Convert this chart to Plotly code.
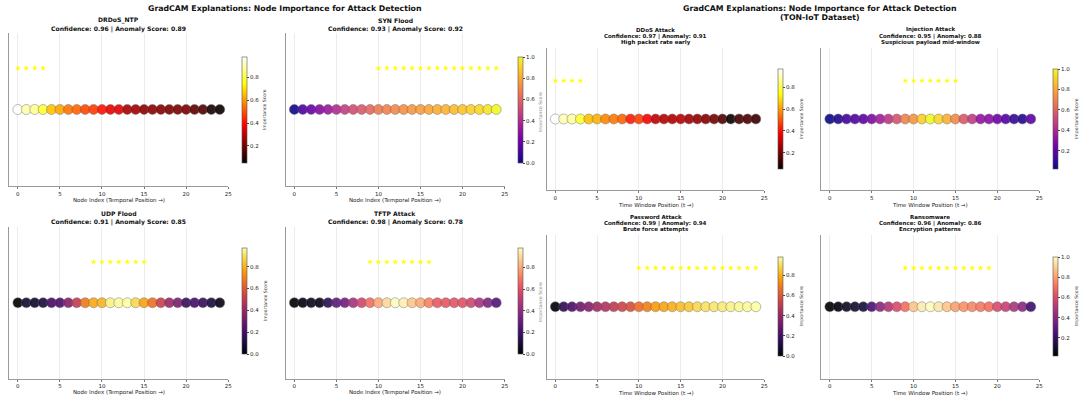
import plotly.graph_objects as go

# ---------------- data ----------------
node_index = list(range(25))

drdos_ntp = [0.98, 0.90, 0.88, 0.79, 0.66, 0.62, 0.55, 0.53, 0.49, 0.47, 0.41, 0.36, 0.35,
             0.27, 0.26, 0.23, 0.23, 0.22, 0.21, 0.21, 0.21, 0.17, 0.15, 0.07, 0.05]
syn_flood = [0.00, 0.12, 0.20, 0.27, 0.33, 0.40, 0.47, 0.52, 0.56, 0.61, 0.67, 0.69, 0.71,
             0.73, 0.75, 0.77, 0.79, 0.81, 0.83, 0.85, 0.87, 0.90, 0.92, 0.95, 1.00]
udp_flood = [0.00, 0.08, 0.06, 0.10, 0.20, 0.22, 0.35, 0.50, 0.68, 0.78, 0.80, 0.94, 0.96,
             0.97, 0.88, 0.77, 0.66, 0.52, 0.40, 0.33, 0.18, 0.20, 0.17, 0.10, 0.03]
tftp_attack = [0.00, 0.02, 0.04, 0.03, 0.15, 0.28, 0.32, 0.45, 0.56, 0.68, 0.80, 0.90, 0.98,
               0.95, 0.86, 0.80, 0.72, 0.63, 0.62, 0.61, 0.60, 0.56, 0.46, 0.36, 0.25]
ddos_attack = [0.97, 0.90, 0.88, 0.78, 0.65, 0.63, 0.57, 0.55, 0.52, 0.42, 0.47, 0.38, 0.30,
               0.29, 0.28, 0.29, 0.26, 0.24, 0.22, 0.20, 0.15, 0.05, 0.13, 0.14, 0.12]
injection_attack = [0.02, 0.05, 0.12, 0.15, 0.18, 0.27, 0.36, 0.45, 0.55, 0.70, 0.75, 0.90, 1.00,
                    0.92, 0.82, 0.72, 0.57, 0.47, 0.32, 0.30, 0.24, 0.16, 0.10, 0.06, 0.18]
password_attack = [0.00, 0.15, 0.22, 0.30, 0.35, 0.42, 0.46, 0.50, 0.54, 0.57, 0.66, 0.70, 0.76,
                   0.78, 0.80, 0.83, 0.85, 0.89, 0.91, 0.92, 0.93, 0.95, 0.96, 0.97, 0.98]
ransomware = [0.02, 0.03, 0.08, 0.10, 0.12, 0.25, 0.40, 0.50, 0.60, 0.70, 0.88, 0.96, 1.00,
              0.95, 0.88, 0.80, 0.77, 0.75, 0.72, 0.70, 0.60, 0.55, 0.48, 0.40, 0.22]

stars_drdos_ntp = [0, 1, 2, 3]
stars_syn_flood = list(range(10, 25))
stars_udp_flood = list(range(9, 16))
stars_tftp_attack = list(range(9, 17))
stars_ddos_attack = [0, 1, 2, 3]
stars_injection_attack = list(range(9, 16))
stars_password_attack = list(range(10, 25))
stars_ransomware = list(range(9, 20))
star_level = 0.27

titles_left = [
    ["DRDoS_NTP", "Confidence: 0.96 | Anomaly Score: 0.89"],
    ["SYN Flood", "Confidence: 0.93 | Anomaly Score: 0.92"],
    ["UDP Flood", "Confidence: 0.91 | Anomaly Score: 0.85"],
    ["TFTP Attack", "Confidence: 0.98 | Anomaly Score: 0.78"],
]
titles_right = [
    ["DDoS Attack", "Confidence: 0.97 | Anomaly: 0.91", "High packet rate early"],
    ["Injection Attack", "Confidence: 0.95 | Anomaly: 0.88", "Suspicious payload mid-window"],
    ["Password Attack", "Confidence: 0.99 | Anomaly: 0.94", "Brute force attempts"],
    ["Ransomware", "Confidence: 0.96 | Anomaly: 0.86", "Encryption patterns"],
]
xlabel_left = "Node Index (Temporal Position \u2192)"
xlabel_right = "Time Window Position (t \u2192)"
suptitle = "GradCAM Explanations: Node Importance for Attack Detection"
suptitle_right2 = "(TON-IoT Dataset)"

# ---------------- colour scales ----------------
hot = [[0.0, "rgb(10,0,0)"], [0.365079, "rgb(255,0,0)"],
       [0.746032, "rgb(255,255,0)"], [1.0, "rgb(255,255,255)"]]

# ---------------- layout helpers ----------------
W, H = 1083, 398
FONT = "DejaVu Sans"


def fx(px):
    return px / W


def fy(py):
    return 1 - py / H


panels = [
    # values, stars, colorscale, axis x px, axis y px, colorbar x, colorbar y px, cbar label
    (drdos_ntp, stars_drdos_ntp, hot, (9.5, 229), (33, 186), 243, (57, 163), True),
    (syn_flood, stars_syn_flood, "Plasma", (287, 506.5), (33, 186), 520, (57, 163), False),
    (udp_flood, stars_udp_flood, "Inferno", (9.5, 229), (227, 378.5), 243, (248, 354), True),
    (tftp_attack, stars_tftp_attack, "Magma", (287, 506.5), (227, 378.5), 520, (248, 354), False),
    (ddos_attack, stars_ddos_attack, hot, (549, 767), (48, 190), 781, (69, 169), True),
    (injection_attack, stars_injection_attack, "Plasma", (824.5, 1043), (48, 190), 1057, (69, 169), True),
    (password_attack, stars_password_attack, "Inferno", (549, 767), (235, 378.5), 781, (257, 356), True),
    (ransomware, stars_ransomware, "Magma", (824.5, 1043), (235, 378.5), 1057, (257, 356), True),
]

fig = go.Figure()
layout = dict(
    width=W, height=H, margin=dict(l=0, r=0, t=0, b=0),
    paper_bgcolor="white", plot_bgcolor="white", showlegend=False,
    font=dict(family=FONT, color="#222"),
)
annotations = []

for i, (vals, stars, cs, axx, axy, cbx, cby, cblab) in enumerate(panels):
    n = i + 1
    xa = "x" if n == 1 else f"x{n}"
    ya = "y" if n == 1 else f"y{n}"
    cb_len = (cby[1] - cby[0]) / H
    cb_y = fy((cby[0] + cby[1]) / 2)
    fig.add_trace(go.Scatter(
        x=node_index, y=[0] * len(vals), mode="markers", xaxis=xa, yaxis=ya,
        marker=dict(
            size=10, color=vals, colorscale=cs, opacity=0.9,
            line=dict(color="#6a6a6a", width=0.5), showscale=True,
            colorbar=dict(
                x=fx(cbx), xanchor="left", xpad=0, ypad=0,
                y=cb_y, yanchor="middle", len=cb_len, lenmode="fraction",
                thickness=5, thicknessmode="pixels",
                outlinecolor="#555", outlinewidth=0.6,
                tick0=0, dtick=0.2, tickformat=".1f", ticks="outside",
                ticklen=2, tickwidth=0.6, tickcolor="#444",
                tickfont=dict(size=5.5, family=FONT, color="#222"),
            ),
        ),
        hoverinfo="skip",
    ))
    fig.add_trace(go.Scatter(
        x=stars, y=[star_level] * len(stars), mode="markers", xaxis=xa, yaxis=ya,
        marker=dict(symbol="star", size=4.5, color="#ffff00", line=dict(width=0)),
        hoverinfo="skip",
    ))
    xkey = "xaxis" if n == 1 else f"xaxis{n}"
    ykey = "yaxis" if n == 1 else f"yaxis{n}"
    layout[xkey] = dict(
        domain=[fx(axx[0]), fx(axx[1])], anchor=ya, range=[-1, 25],
        tick0=0, dtick=5, showgrid=True, gridcolor="#ececec", gridwidth=0.6,
        zeroline=False, showline=True, linecolor="#9a9a9a", linewidth=1,
        ticks="outside", ticklen=2, tickwidth=0.6, tickcolor="#777",
        tickfont=dict(size=5.5, family=FONT, color="#222"),
    )
    layout[ykey] = dict(
        domain=[fy(axy[1]), fy(axy[0])], anchor=xa, range=[-0.5, 0.5],
        showgrid=False, zeroline=False, showticklabels=False, ticks="",
        showline=True, linecolor="#9a9a9a", linewidth=1.2,
    )
    if cblab:
        annotations.append(dict(
            x=fx(cbx + 23), y=cb_y, xref="paper", yref="paper", text="Importance Score",
            showarrow=False, textangle=-90, xanchor="center", yanchor="middle",
            font=dict(size=4.6, family=FONT, color="#333"),
        ))

# subplot titles
left_title_y = [(20.5, 28.8), (20.5, 28.8), (213.5, 221.5), (213.5, 221.5)]
for k, lines in enumerate(titles_left):
    axx = panels[k][3]
    cx = (axx[0] + axx[1]) / 2
    for j, t in enumerate(lines):
        annotations.append(dict(
            x=fx(cx), y=fy(left_title_y[k][j]), xref="paper", yref="paper",
            text=f"<b>{t}</b>", showarrow=False, xanchor="center", yanchor="middle",
            font=dict(size=6.1, family=FONT, color="#111"),
        ))
right_title_y = [(30, 36.4, 42.8), (30, 36.4, 42.8), (216.7, 223.2, 229.7), (216.7, 223.2, 229.7)]
for k, lines in enumerate(titles_right):
    axx = panels[k + 4][3]
    cx = (axx[0] + axx[1]) / 2
    for j, t in enumerate(lines):
        annotations.append(dict(
            x=fx(cx), y=fy(right_title_y[k][j]), xref="paper", yref="paper",
            text=f"<b>{t}</b>", showarrow=False, xanchor="center", yanchor="middle",
            font=dict(size=5.5, family=FONT, color="#111"),
        ))

# x labels
xlabel_pos = [200.5, 200.5, 392.5, 392.5, 205, 205, 392.5, 392.5]
for k in range(8):
    axx = panels[k][3]
    cx_px = axx[0] + (axx[1] - axx[0]) * (13 / 26)
    annotations.append(dict(
        x=fx(cx_px), y=fy(xlabel_pos[k]), xref="paper", yref="paper",
        text=xlabel_left if k < 4 else xlabel_right, showarrow=False,
        xanchor="center", yanchor="middle", font=dict(size=5.5, family=FONT, color="#222"),
    ))

# y labels of the right figure (clipped at its left edge)
for yc in (112, 302):
    annotations.append(dict(
        x=fx(542.5), y=fy(yc), xref="paper", yref="paper", text="Importance Score",
        showarrow=False, textangle=-90, xanchor="center", yanchor="middle",
        font=dict(size=4.6, family=FONT, color="#888"),
    ))

# super titles
annotations.append(dict(
    x=fx(286), y=fy(8.5), xref="paper", yref="paper", text=f"<b>{suptitle}</b>",
    showarrow=False, xanchor="center", yanchor="middle",
    font=dict(size=7.8, family=FONT, color="#111"),
))
annotations.append(dict(
    x=fx(823), y=fy(8.5), xref="paper", yref="paper", text=f"<b>{suptitle}</b>",
    showarrow=False, xanchor="center", yanchor="middle",
    font=dict(size=7.8, family=FONT, color="#111"),
))
annotations.append(dict(
    x=fx(823), y=fy(17.8), xref="paper", yref="paper", text=f"<b>{suptitle_right2}</b>",
    showarrow=False, xanchor="center", yanchor="middle",
    font=dict(size=7.8, family=FONT, color="#111"),
))

layout["annotations"] = annotations
fig.update_layout(**layout)
fig.write_html(
    "out.html",
    config={"displayModeBar": False},
    post_script="document.body.style.margin='0';document.body.style.overflow='hidden';",
)
